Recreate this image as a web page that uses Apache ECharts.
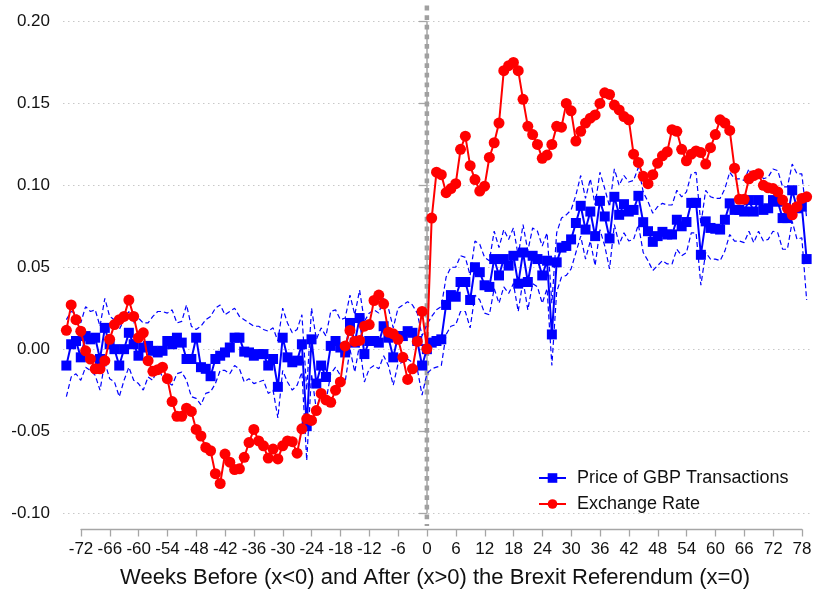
<!DOCTYPE html>
<html><head><meta charset="utf-8">
<script src="https://cdn.jsdelivr.net/npm/echarts@6/dist/echarts.min.js"></script>
<style>html,body{margin:0;padding:0;background:#fff}#c{width:815px;height:595px}</style>
</head><body><div id="c"></div>
<script>
// Weekly observations, week -75 .. week 79
const FIRST_WEEK = -75;
const xTickValues = [-72,-66,-60,-54,-48,-42,-36,-30,-24,-18,-12,-6,0,6,12,18,24,30,36,42,48,54,60,66,72,78];
const yTickValues = [-0.10,-0.05,0.00,0.05,0.10,0.15,0.20];

const gbpPrice = [
 -0.010, 0.003, 0.005,-0.005, 0.008, 0.006, 0.007,-0.006, 0.013, 0.003,
  0.000,-0.010, 0.000, 0.010, 0.003,-0.004, 0.001, 0.002,-0.001,-0.002,
 -0.001, 0.005, 0.003, 0.007, 0.004,-0.006,-0.006, 0.007,-0.011,-0.012,
 -0.0165,-0.006,-0.004,-0.002, 0.001, 0.007, 0.007,-0.0015,-0.002,-0.004,
 -0.003,-0.003,-0.010,-0.006,-0.023, 0.007,-0.005,-0.008,-0.007, 0.003,
 -0.047, 0.006,-0.021,-0.010,-0.017, 0.002, 0.005, 0.001,-0.002, 0.016,
  0.004, 0.019,-0.003, 0.005, 0.005, 0.004, 0.014, 0.007,-0.005, 0.008,
  0.008, 0.011, 0.010, 0.005,-0.010, 0.000, 0.004, 0.005, 0.006, 0.027,
  0.033, 0.032, 0.041, 0.041, 0.030, 0.050, 0.047, 0.039, 0.038, 0.055,
  0.045, 0.055, 0.051, 0.057, 0.040, 0.059, 0.041, 0.057, 0.055, 0.045,
  0.054, 0.009, 0.053, 0.062, 0.063, 0.067, 0.077, 0.0875, 0.073, 0.084,
  0.069, 0.0905, 0.081, 0.0676, 0.093, 0.082, 0.0885, 0.084, 0.085, 0.0936,
  0.0775, 0.072, 0.0655, 0.069, 0.0716, 0.070, 0.070, 0.079, 0.075, 0.0776,
  0.0893, 0.0893, 0.0576, 0.078, 0.074, 0.0735, 0.073, 0.079, 0.089, 0.085,
  0.085, 0.084, 0.091, 0.084, 0.091, 0.085, 0.086, 0.091, 0.090, 0.080,
  0.080, 0.097, 0.086, 0.087, 0.055
];

const gbpUpper = [
  0.018, 0.023, 0.022, 0.016, 0.026, 0.023, 0.024, 0.014, 0.031, 0.020,
  0.018, 0.012, 0.018, 0.023, 0.016, 0.019, 0.016, 0.016, 0.020, 0.023,
  0.023, 0.022, 0.024, 0.016, 0.017, 0.027, 0.014, 0.012, 0.014, 0.018,
  0.020, 0.025, 0.027, 0.021, 0.023, 0.025, 0.020, 0.018,
  0.016, 0.014, 0.014, 0.012, 0.011, 0.013, 0.005, 0.025, 0.016, 0.010,
  0.012, 0.021,-0.025, 0.025, 0.006, 0.013, 0.008, 0.023, 0.024, 0.018,
  0.019, 0.033, 0.021, 0.036, 0.017, 0.022, 0.024, 0.022, 0.031, 0.025,
  0.013, 0.025, 0.027, 0.029, 0.027, 0.022, 0.008, 0.015,
  0.020, 0.024, 0.026, 0.044, 0.050, 0.050, 0.057, 0.056, 0.045, 0.066,
  0.064, 0.056, 0.054, 0.072, 0.062, 0.073, 0.067, 0.074, 0.057, 0.076,
  0.060, 0.074, 0.072, 0.063, 0.071, 0.028, 0.071, 0.080, 0.082, 0.085,
  0.094, 0.106, 0.092, 0.104, 0.088, 0.108, 0.098, 0.087, 0.110, 0.100,
  0.106, 0.102, 0.103, 0.111, 0.096,
  0.090, 0.083, 0.087, 0.089, 0.088, 0.088, 0.097, 0.093, 0.096, 0.107,
  0.108, 0.076, 0.097, 0.093, 0.092, 0.092, 0.098, 0.108, 0.104, 0.104,
  0.103, 0.110, 0.103, 0.110, 0.104, 0.105, 0.110, 0.109, 0.099, 0.099,
  0.113, 0.107, 0.107, 0.080
];

const gbpLower = [
 -0.029,-0.017,-0.015,-0.019,-0.011,-0.013,-0.016,-0.025,-0.008,-0.018,
 -0.020,-0.029,-0.019,-0.011,-0.019,-0.021,-0.025,-0.017,-0.019,-0.011,
 -0.017,-0.020,-0.022,-0.015,-0.014,-0.019,-0.029,-0.030,-0.034,-0.027,
 -0.026,-0.021,-0.013,-0.013,-0.015,-0.010,-0.012,-0.020,
 -0.018,-0.021,-0.020,-0.019,-0.027,-0.025,-0.042,-0.013,-0.020,-0.025,
 -0.022,-0.014,-0.068,-0.015,-0.037,-0.026,-0.032,-0.015,-0.011,-0.016,
 -0.020, 0.000,-0.014, 0.003,-0.020,-0.012,-0.010,-0.012,-0.004,-0.010,
 -0.022,-0.009,-0.008,-0.006,-0.008,-0.012,-0.028,-0.015,
 -0.012,-0.011,-0.010, 0.009, 0.014, 0.015, 0.023, 0.023, 0.013, 0.033,
  0.030, 0.022, 0.021, 0.037, 0.028, 0.038, 0.034, 0.040, 0.023, 0.042,
  0.024, 0.040, 0.038, 0.028, 0.037,-0.010, 0.035, 0.044, 0.045, 0.049,
  0.059, 0.069, 0.055, 0.066, 0.051, 0.073, 0.063, 0.049, 0.076, 0.064,
  0.071, 0.066, 0.067, 0.076, 0.059,
  0.054, 0.048, 0.051, 0.054, 0.052, 0.052, 0.061, 0.057, 0.059, 0.071,
  0.071, 0.039, 0.059, 0.055, 0.055, 0.054, 0.060, 0.070, 0.066, 0.066,
  0.065, 0.072, 0.065, 0.072, 0.066, 0.067, 0.072, 0.071, 0.061, 0.061,
  0.078, 0.067, 0.068, 0.030
];

const exchangeRate = [
  0.0115, 0.027, 0.018, 0.011,-0.001,-0.006,-0.012,-0.012,-0.007, 0.006,
  0.015, 0.018, 0.020, 0.030, 0.020, 0.007, 0.010,-0.007,-0.0135,-0.0125,
 -0.011,-0.018,-0.032,-0.041,-0.041,-0.036,-0.038,-0.049,-0.053,-0.060,
 -0.062,-0.076,-0.082,-0.064,-0.069,-0.0735,-0.073,-0.066,-0.057,-0.049,
 -0.056,-0.059,-0.0665,-0.061,-0.067,-0.059,-0.056,-0.0565,-0.0635,-0.0486,
 -0.0425,-0.0435,-0.0375,-0.027,-0.031,-0.0324,-0.025,-0.020, 0.002, 0.0114,
  0.0047, 0.0053, 0.014, 0.015, 0.0297, 0.033, 0.0277, 0.0104, 0.0094, 0.006,
 -0.005,-0.0185,-0.012, 0.0047, 0.023, 0.0002, 0.080, 0.108, 0.1065, 0.0955,
  0.098, 0.101, 0.122, 0.130, 0.112, 0.1035, 0.0965, 0.0995, 0.117, 0.126,
  0.138, 0.170, 0.173, 0.175, 0.170, 0.1525, 0.136, 0.131, 0.125, 0.1165,
  0.1185, 0.125, 0.136, 0.1355, 0.150, 0.1455, 0.127, 0.133, 0.138, 0.141,
  0.143, 0.150, 0.1565, 0.1555, 0.149, 0.146, 0.142, 0.140, 0.119, 0.114,
  0.1055, 0.101, 0.1065, 0.1135, 0.118, 0.1205, 0.134, 0.133, 0.122, 0.115,
  0.119, 0.121, 0.120, 0.113, 0.123, 0.131, 0.140, 0.138, 0.1335, 0.1105,
  0.0915, 0.0915, 0.104, 0.106, 0.107, 0.100, 0.0985, 0.098, 0.096, 0.091,
  0.086, 0.082, 0.087, 0.092, 0.093
];

const referendumLine = [[0, 0.2097], [0, -0.108]];
const seriesNames = ['Price of GBP Transactions', 'Exchange Rate'];
const xTitle = 'Weeks Before (x<0) and After (x>0) the Brexit Referendum (x=0)';

const weeks = gbpPrice.map((_, i) => FIRST_WEEK + i);
const pairs = arr => arr.map((v, i) => [weeks[i], v]);

const FONT = "'Liberation Sans', Arial, Helvetica, sans-serif";
const BLUE = '#0000ff', RED = '#ff0000', AXIS = '#a6a6a6';

const chart = echarts.init(document.getElementById('c'), null, {renderer: 'canvas'});
chart.setOption({
  animation: false,
  backgroundColor: '#ffffff',
  textStyle: {fontFamily: FONT},
  grid: [
    {left: 63, right: 5, top: 21.5, bottom: 82},
    {left: 81, right: 13, top: 21.5, bottom: 65.5}
  ],
  xAxis: [
    {type: 'value', gridIndex: 0, min: -75.7, max: 79.7, show: false},
    {type: 'value', gridIndex: 1, min: xTickValues[0], max: xTickValues[xTickValues.length - 1],
     interval: 6, position: 'bottom',
     axisLine: {show: true, onZero: false, lineStyle: {color: AXIS, width: 1.3}},
     axisTick: {show: true, length: 7, lineStyle: {color: AXIS, width: 1.3}},
     axisLabel: {fontSize: 17, color: '#111', margin: 11, fontFamily: FONT},
     splitLine: {show: false}}
  ],
  yAxis: [
    {type: 'value', gridIndex: 0, min: yTickValues[0], max: yTickValues[yTickValues.length - 1], interval: 0.05,
     axisLine: {show: true, lineStyle: {color: AXIS, width: 1.5}},
     axisTick: {show: true, length: 8, lineStyle: {color: AXIS, width: 1.3}},
     axisLabel: {fontSize: 17, color: '#111', margin: 13, fontFamily: FONT,
                 formatter: v => v.toFixed(2)},
     splitLine: {show: true, lineStyle: {color: '#c8c8c8', width: 1, type: [1.5, 3.5]}}},
    {type: 'value', gridIndex: 1, min: 0, max: 1, show: false}
  ],
  legend: {
    orient: 'vertical', left: 533, top: 464, itemWidth: 27, itemHeight: 12, itemGap: 8,
    data: seriesNames,
    textStyle: {fontSize: 18, color: '#111', fontFamily: FONT, padding: [0, 0, 0, 6]}
  },
  graphic: [{
    type: 'text', x: 435, y: 578,
    style: {text: xTitle, fontSize: 22, fontFamily: FONT, fill: '#111',
            textAlign: 'center', textVerticalAlign: 'middle'}
  }],
  series: [
    {type: 'line', name: 'ref', data: referendumLine, xAxisIndex: 0, yAxisIndex: 0,
     clip: false, symbol: 'none', silent: true, z: 1,
     lineStyle: {color: '#a0a0a0', width: 4.5, type: [4.8, 4.8]}},
    {type: 'line', name: 'upper', data: pairs(gbpUpper), symbol: 'none', silent: true, z: 2,
     lineStyle: {color: BLUE, width: 1.2, type: [5, 3]}},
    {type: 'line', name: 'lower', data: pairs(gbpLower), symbol: 'none', silent: true, z: 2,
     lineStyle: {color: BLUE, width: 1.2, type: [5, 3]}},
    {type: 'line', name: seriesNames[0], data: pairs(gbpPrice), symbol: 'rect', symbolSize: 10, z: 3,
     itemStyle: {color: BLUE}, lineStyle: {color: BLUE, width: 2}},
    {type: 'line', name: seriesNames[1], data: pairs(exchangeRate), symbol: 'circle', symbolSize: 11, z: 4,
     itemStyle: {color: RED}, lineStyle: {color: RED, width: 2}}
  ]
});
</script>
</body></html>
